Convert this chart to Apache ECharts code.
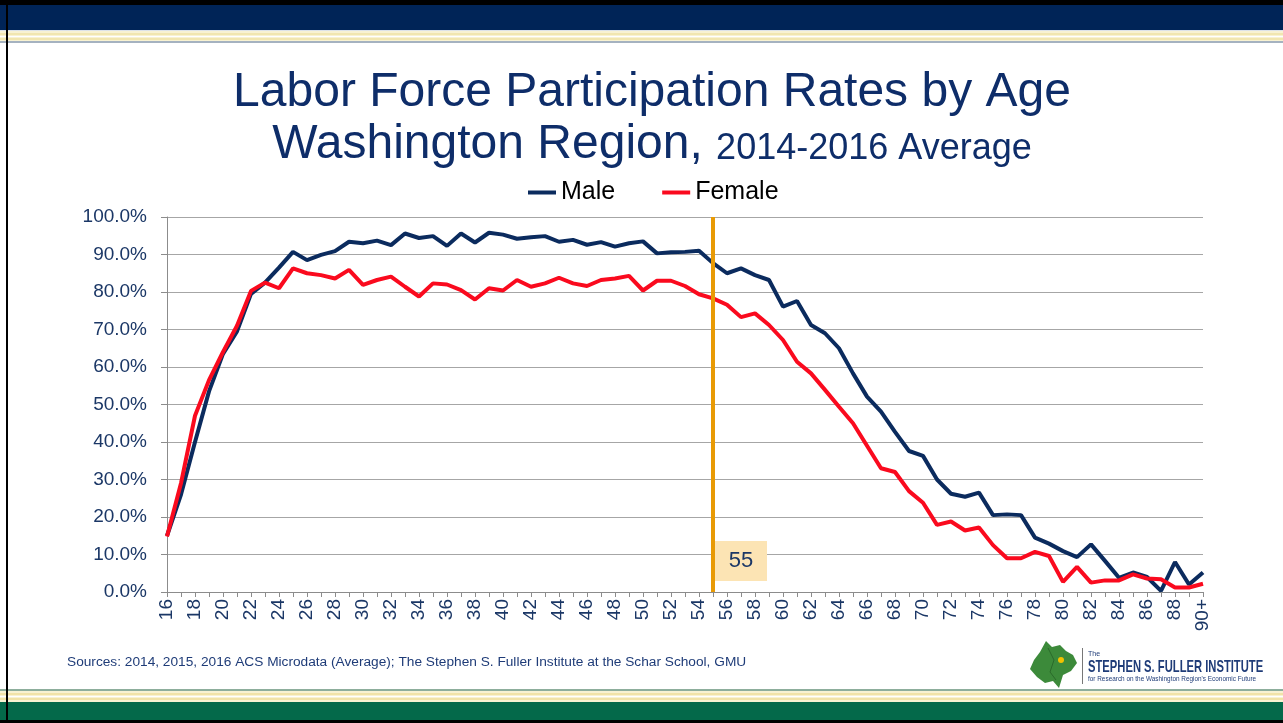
<!DOCTYPE html>
<html>
<head>
<meta charset="utf-8">
<script src="https://cdn.jsdelivr.net/npm/echarts@6/dist/echarts.min.js"></script>
<style>
html,body{margin:0;padding:0;background:#fff;}
#chart{width:1283px;height:723px;}
</style>
</head>
<body>
<div id="chart"></div>
<script>
// ---- Data ----
const ages = ['16','17','18','19','20','21','22','23','24','25','26','27','28','29','30','31','32','33','34','35',
  '36','37','38','39','40','41','42','43','44','45','46','47','48','49','50','51','52','53','54','55',
  '56','57','58','59','60','61','62','63','64','65','66','67','68','69','70','71','72','73','74','75',
  '76','77','78','79','80','81','82','83','84','85','86','87','88','89','90+'];

const male = [15.0, 26.0, 40.0, 53.5, 63.5, 69.5, 79.5, 82.5, 86.5, 90.7,
  88.5, 89.9, 90.9, 93.4, 93.0, 93.7, 92.5, 95.6, 94.4, 94.9,
  92.3, 95.6, 93.2, 95.8, 95.3, 94.2, 94.6, 94.9, 93.4, 93.9,
  92.6, 93.3, 92.1, 93.0, 93.5, 90.3, 90.6, 90.7, 91.0, 87.7,
  85.0, 86.3, 84.5, 83.2, 76.1, 77.6, 71.2, 69.0, 65.0, 58.3,
  52.1, 48.1, 42.7, 37.6, 36.3, 30.0, 26.2, 25.4, 26.5, 20.5,
  20.7, 20.5, 14.5, 12.9, 10.9, 9.3, 12.7, 8.3, 3.8, 5.2,
  4.0, 0.3, 8.0, 2.0, 5.2];

const female = [14.8, 29.0, 47.0, 56.5, 64.0, 71.0, 80.3, 82.5, 81.0, 86.3,
  85.0, 84.5, 83.6, 85.9, 81.9, 83.2, 84.1, 81.4, 78.8, 82.3,
  82.0, 80.5, 78.0, 81.0, 80.4, 83.2, 81.4, 82.3, 83.8, 82.3,
  81.6, 83.2, 83.6, 84.3, 80.4, 83.0, 83.0, 81.6, 79.4, 78.3,
  76.6, 73.3, 74.3, 71.2, 67.2, 61.4, 58.3, 53.9, 49.4, 45.0,
  39.0, 33.0, 32.0, 26.9, 23.8, 17.9, 18.8, 16.4, 17.2, 12.5,
  9.0, 9.0, 10.7, 9.6, 2.7, 6.7, 2.5, 3.1, 3.1, 4.7,
  3.6, 3.4, 1.2, 1.2, 2.2];

const markerAge = '55';
const markerLabelY = 8.3;

const seriesNames = ['Male', 'Female'];
const titleLine1 = 'Labor Force Participation Rates by Age';
const titleLine2a = 'Washington Region,';
const titleLine2b = '2014-2016 Average';
const sourceText = 'Sources: 2014, 2015, 2016 ACS Microdata (Average); The Stephen S. Fuller Institute at the Schar School, GMU';

// ---- Styles ----
const FONT = "'Liberation Sans', Arial, sans-serif";
const NAVY_TEXT = '#1B3766';
const MALE_COLOR = '#0B2B5E';
const FEMALE_COLOR = '#FA0A1E';

const chart = echarts.init(document.getElementById('chart'), null, {renderer: 'canvas'});

const decor = [
  // header
  {type:'rect', shape:{x:0,y:0,width:1283,height:5}, style:{fill:'#000'}, silent:true},
  {type:'rect', shape:{x:0,y:5,width:1283,height:25}, style:{fill:'#002457'}, silent:true},
  {type:'rect', shape:{x:0,y:30,width:1283,height:11}, style:{fill:'#F8F2D2'}, silent:true},
  {type:'rect', shape:{x:0,y:30,width:1283,height:1}, style:{fill:'#DCE2E8'}, silent:true},
  {type:'rect', shape:{x:0,y:33,width:1283,height:2}, style:{fill:'#F1E6B0'}, silent:true},
  {type:'rect', shape:{x:0,y:36,width:1283,height:1}, style:{fill:'#FFFFFF'}, silent:true},
  {type:'rect', shape:{x:0,y:38,width:1283,height:2}, style:{fill:'#F1E6B0'}, silent:true},
  {type:'rect', shape:{x:0,y:41,width:1283,height:2}, style:{fill:'#A5B2C0'}, silent:true},
  // footer
  {type:'rect', shape:{x:0,y:689,width:1283,height:2}, style:{fill:'#8DAE9C'}, silent:true},
  {type:'rect', shape:{x:0,y:691,width:1283,height:11}, style:{fill:'#F8F2D2'}, silent:true},
  {type:'rect', shape:{x:0,y:693,width:1283,height:2}, style:{fill:'#F1E3A8'}, silent:true},
  {type:'rect', shape:{x:0,y:696,width:1283,height:1}, style:{fill:'#FFFFFF'}, silent:true},
  {type:'rect', shape:{x:0,y:698,width:1283,height:2}, style:{fill:'#F1E3A8'}, silent:true},
  {type:'rect', shape:{x:0,y:702,width:1283,height:18}, style:{fill:'#04694A'}, silent:true},
  {type:'rect', shape:{x:0,y:720,width:1283,height:3}, style:{fill:'#000'}, silent:true},
  // left border
  {type:'rect', shape:{x:6,y:0,width:2,height:723}, style:{fill:'#000'}, silent:true, z:10},
  // titles
  {type:'text', x:652, y:93, style:{text:titleLine1, font:"48px "+FONT, fill:'#0E2D69', align:'center', verticalAlign:'middle'}, silent:true},
  {type:'text', x:652, y:169, style:{
      text:'{a|'+titleLine2a+' }{b|'+titleLine2b+'}',
      align:'center', verticalAlign:'bottom',
      rich:{
        a:{font:"48px "+FONT, fill:'#0E2D69', verticalAlign:'bottom', lineHeight:48},
        b:{font:"36px "+FONT, fill:'#0E2D69', verticalAlign:'bottom', lineHeight:48, padding:[0,0,2,0]}
      }}, silent:true},
  // source
  {type:'text', x:67, y:662, style:{text:sourceText, font:"13.7px "+FONT, fill:'#1F3C78', verticalAlign:'middle'}, silent:true},
  // logo
  {type:'polygon', shape:{points:[[1046,641],[1052,647],[1060,645],[1066,651],[1073,655],[1077,663],[1071,671],[1063,675],[1059,688],[1053,681],[1045,683],[1037,677],[1030,669],[1034,660],[1040,652]]},
    style:{fill:'#3C8A3A'}, silent:true},
  {type:'polyline', shape:{points:[[1048,648],[1054,660],[1050,672],[1056,680]]}, style:{stroke:'#2A6A2A', lineWidth:1, fill:null}, silent:true},
  {type:'circle', shape:{cx:1061, cy:660, r:3}, style:{fill:'#F2C200'}, silent:true},
  {type:'rect', shape:{x:1082,y:648,width:1,height:36}, style:{fill:'#777'}, silent:true},
  {type:'text', x:1088, y:654, style:{text:'The', font:"7px "+FONT, fill:'#1F3C78', verticalAlign:'middle'}, silent:true},
  {type:'text', x:1088, y:667, scaleX:0.66, style:{text:'STEPHEN S. FULLER INSTITUTE', font:"bold 17px "+FONT, fill:'#1F3C78', verticalAlign:'middle'}, silent:true},
  {type:'text', x:1088, y:679, scaleX:0.8, style:{text:"for Research on the Washington Region's Economic Future", font:"8px "+FONT, fill:'#1F3C78', verticalAlign:'middle'}, silent:true}
];

const option = {
  backgroundColor: '#ffffff',
  animation: false,
  graphic: decor,
  legend: {
    data: seriesNames,
    left: 523,
    top: 175,
    icon: 'rect',
    itemWidth: 28,
    itemHeight: 4,
    itemGap: 47,
    textStyle: {fontFamily: FONT, fontSize: 25, color: '#000'}
  },
  grid: {left: 167, right: 80, top: 217, bottom: 131, containLabel: false},
  xAxis: {
    type: 'category',
    data: ages,
    boundaryGap: false,
    axisLine: {lineStyle: {color: '#8C8C8C', width: 1}},
    axisTick: {show: true, interval: 0, length: 5, lineStyle: {color: '#8C8C8C'}},
    axisLabel: {interval: 1, rotate: 90, margin: 7, fontFamily: FONT, fontSize: 19, color: NAVY_TEXT},
    splitLine: {show: false}
  },
  yAxis: {
    type: 'value',
    min: 0, max: 100, interval: 10,
    axisLine: {show: true, lineStyle: {color: '#8C8C8C', width: 1}},
    axisTick: {show: true, length: 6, lineStyle: {color: '#8C8C8C'}},
    axisLabel: {margin: 20, fontFamily: FONT, fontSize: 19, color: NAVY_TEXT,
      formatter: v => v.toFixed(1) + '%'},
    splitLine: {lineStyle: {color: '#A6A6A6', width: 1}}
  },
  series: [
    {
      name: seriesNames[0], type: 'line', data: male, symbol: 'none',
      itemStyle: {color: MALE_COLOR},
      lineStyle: {color: MALE_COLOR, width: 4}, z: 2
    },
    {
      name: seriesNames[1], type: 'line', data: female, symbol: 'none',
      itemStyle: {color: FEMALE_COLOR},
      lineStyle: {color: FEMALE_COLOR, width: 4}, z: 3,
      markLine: {
        silent: true, symbol: ['none','none'],
        label: {show: false},
        lineStyle: {color: '#E89A05', width: 4, type: 'solid'},
        data: [{xAxis: markerAge}],
        z: 5
      },
      markPoint: {
        silent: true,
        symbol: 'rect', symbolSize: [52, 40], symbolOffset: [28, 0],
        itemStyle: {color: '#FCE4B4'},
        label: {show: true, position: 'inside', offset: [0, 0], formatter: markerAge,
          fontFamily: FONT, fontSize: 22, color: NAVY_TEXT},
        data: [{coord: [markerAge, markerLabelY]}],
        z: 5
      }
    }
  ]
};
chart.setOption(option);
</script>
</body>
</html>
